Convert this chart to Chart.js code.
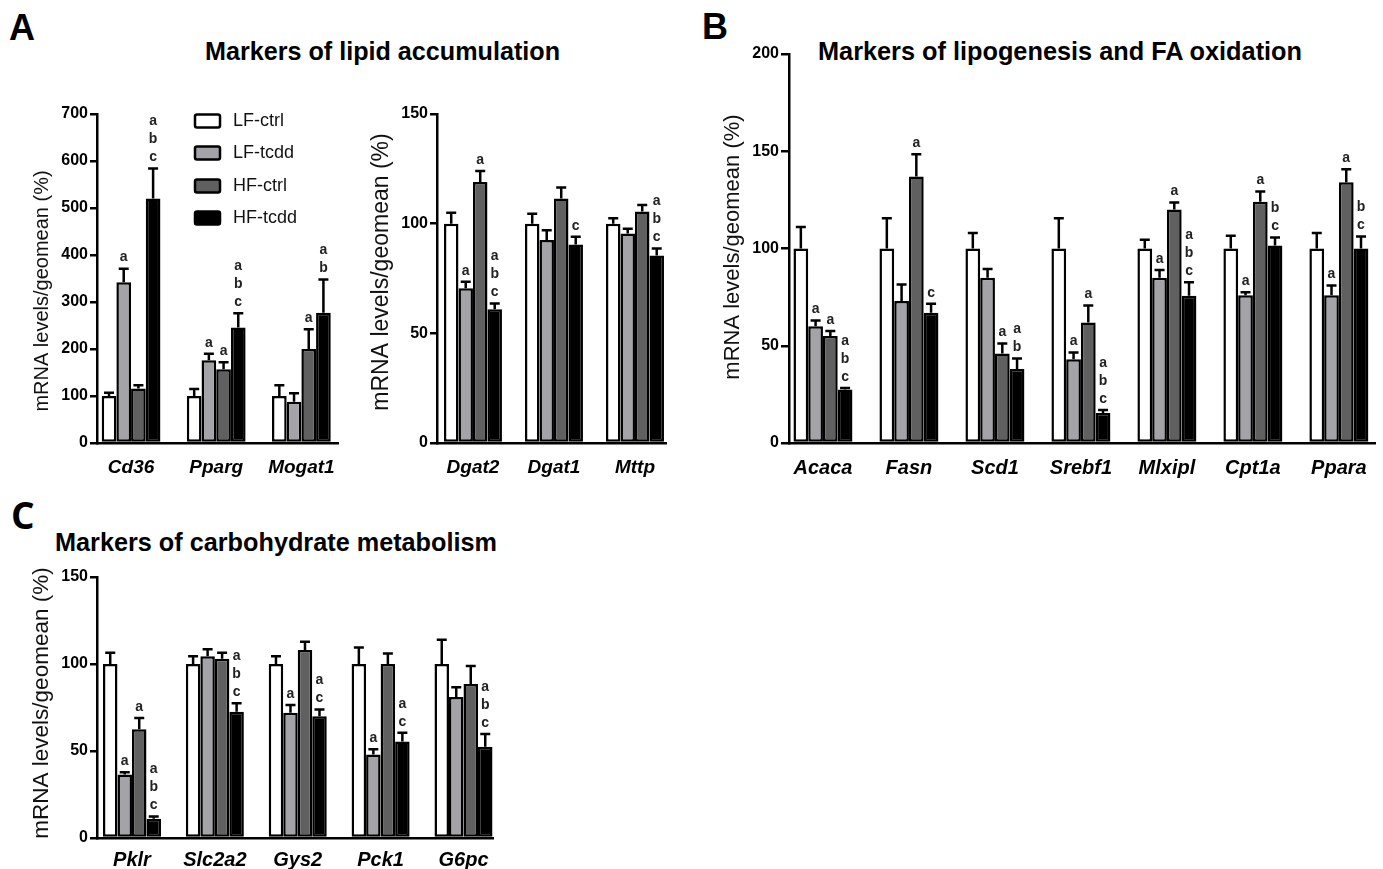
<!DOCTYPE html>
<html>
<head>
<meta charset="utf-8">
<script src="https://cdn.jsdelivr.net/npm/chart.js@4.4.1/dist/chart.umd.min.js"></script>
<style>
  body { margin: 0; background: #fff; width: 1383px; height: 869px; overflow: hidden; position: relative;
         font-family: 'Liberation Sans', Arial, sans-serif; color: #000; }
  canvas { position: absolute; }
  .tag { position: absolute; font-weight: bold; font-size: 36px; line-height: 36px; }
  .ttl { position: absolute; font-weight: bold; font-size: 25px; line-height: 25px; white-space: nowrap; transform-origin: 0 0; }
</style>
</head>
<body>
<div class="tag" style="left:9px;top:10px">A</div>
<div class="tag" style="left:702px;top:9px">B</div>
<div class="tag" style="left:11px;top:497px;font-family:'Open Sans',sans-serif;font-size:37px">C</div>
<div class="ttl" data-w="355" style="left:205px;top:39px">Markers of lipid accumulation</div>
<div class="ttl" data-w="484" style="left:818px;top:39px">Markers of lipogenesis and FA oxidation</div>
<div class="ttl" data-w="442" style="left:55px;top:530px">Markers of carbohydrate metabolism</div>

<canvas id="lipidA"></canvas>
<canvas id="lipidB"></canvas>
<canvas id="lipo"></canvas>
<canvas id="carb"></canvas>

<script>
// groups (same in every panel)
const groups = ['LF-ctrl', 'LF-tcdd', 'HF-ctrl', 'HF-tcdd'];
const fills = ['#ffffff', '#a3a3a8', '#606060', '#000000'];

// A, left: lipid accumulation (rows = groups)
const lipidCats = ['Cd36', 'Pparg', 'Mogat1'];
const lipidMean = [[100, 100, 100], [342, 176, 88], [116, 157, 200], [520, 246, 277]];
const lipidSem = [[7, 15, 23], [29, 14, 18], [7, 15, 42], [64, 30, 71]];
const lipidSig = [['', '', ''], ['a', 'a', ''], ['', 'a', 'a'], ['abc', 'abc', 'ab']];

// A, right
const lipid2Cats = ['Dgat2', 'Dgat1', 'Mttp'];
const lipid2Mean = [[100, 100, 100], [70.5, 92.5, 95.5], [119, 111.5, 105.5], [61, 90.5, 85.5]];
const lipid2Sem = [[5, 4.5, 2.5], [3, 4.5, 2.2], [5, 5, 3], [2.6, 3.5, 3.2]];
const lipid2Sig = [['', '', ''], ['a', '', ''], ['a', '', ''], ['abc', 'c', 'abc']];

// B: lipogenesis and FA oxidation
const lipoCats = ['Acaca', 'Fasn', 'Scd1', 'Srebf1', 'Mlxipl', 'Cpt1a', 'Ppara'];
const lipoMean = [
  [100, 100, 100, 100, 100, 100, 100],
  [60, 73, 85, 43, 85, 76, 76],
  [55, 137, 46, 62, 120, 124, 134],
  [27.5, 67, 38, 15.4, 75.7, 101.5, 100]
];
const lipoSem = [
  [11, 15.5, 8, 15.5, 4.5, 6.5, 8],
  [3, 8.5, 4.5, 3.5, 4, 1.5, 5],
  [2.6, 11.5, 5.2, 8.7, 3.7, 5.3, 6.8],
  [0.8, 4.6, 5.5, 1.6, 7, 4.1, 6.2]
];
const lipoSig = [
  ['', '', '', '', '', '', ''],
  ['a', '', '', 'a', 'a', 'a', 'a'],
  ['a', 'a', 'a', 'a', 'a', 'a', 'a'],
  ['abc', 'c', 'ab', 'abc', 'abc', 'bc', 'bc']
];

// C: carbohydrate metabolism
const carbCats = ['Pklr', 'Slc2a2', 'Gys2', 'Pck1', 'G6pc'];
const carbMean = [
  [100, 100, 100, 100, 100],
  [36.5, 104.5, 72, 48, 81],
  [62.5, 103, 108, 100, 88.5],
  [11, 72.5, 70, 55.5, 52.5]
];
const carbSem = [
  [6.5, 4.5, 4.5, 9.5, 14],
  [1.3, 4, 4.4, 3, 5.7],
  [6.4, 3.5, 4.8, 6, 10.4],
  [1.3, 5, 3.8, 5, 7.3]
];
const carbSig = [
  ['', '', '', '', ''],
  ['a', '', 'a', 'a', ''],
  ['a', '', '', '', ''],
  ['abc', 'abc', 'ac', 'ac', 'abc']
];

const FONT = "'Liberation Sans', Arial, sans-serif";
Chart.defaults.font.family = FONT;
Chart.defaults.color = '#000';

// error bars, significance letters, rotated y title, legend
const extras = {
  id: 'extras',
  afterDraw(chart, args, o) {
    const ctx = chart.ctx;
    const ys = chart.scales.y;
    const ox = chart.canvas.offsetLeft, oy = chart.canvas.offsetTop;
    ctx.save();
    chart.data.datasets.forEach((ds, s) => {
      chart.getDatasetMeta(s).data.forEach((bar, i) => {
        const top = ys.getPixelForValue(ds.data[i].y + ds.sem[i]);
        ctx.strokeStyle = '#000';
        ctx.lineWidth = 2.5;
        ctx.beginPath();
        ctx.moveTo(bar.x, bar.y);
        ctx.lineTo(bar.x, top);
        ctx.moveTo(bar.x - 5, top);
        ctx.lineTo(bar.x + 5, top);
        ctx.stroke();
        const tags = (ds.letters[i] || '').split('');
        ctx.fillStyle = '#222';
        ctx.font = 'bold 14px ' + FONT;
        ctx.textAlign = 'center';
        ctx.textBaseline = 'middle';
        tags.forEach((t, k) => ctx.fillText(t, bar.x, top - 11 - (tags.length - 1 - k) * 18));
      });
    });

    if (o.yLabel) {
      ctx.save();
      ctx.translate(o.yLabel.x - ox, o.yLabel.y - oy);
      ctx.rotate(-Math.PI / 2);
      ctx.fillStyle = '#111';
      ctx.font = o.yLabel.size + 'px ' + FONT;
      ctx.textAlign = 'center';
      ctx.textBaseline = 'middle';
      ctx.fillText(o.yLabel.text, 0, 0);
      ctx.restore();
    }

    if (o.legend) {
      chart.data.datasets.forEach((ds, s) => {
        const cy = o.legend.ys[s] - oy;
        const lx = o.legend.x - ox;
        ctx.fillStyle = ds.backgroundColor;
        ctx.strokeStyle = '#000';
        ctx.lineWidth = 2.5;
        ctx.beginPath();
        ctx.roundRect(lx, cy - 6.5, 25, 13, 2);
        ctx.fill();
        ctx.stroke();
        ctx.fillStyle = '#111';
        ctx.font = '18px ' + FONT;
        ctx.textAlign = 'left';
        ctx.textBaseline = 'middle';
        ctx.fillText(ds.label, lx + 38, cy);
      });
    }
    ctx.restore();
  }
};

function makeChart(id, p) {
  const cv = document.getElementById(id);
  const [bx, by, bw, bh] = p.box;
  const [al, at, ar, ab] = p.area;
  cv.width = bw;
  cv.height = bh;
  cv.style.left = bx + 'px';
  cv.style.top = by + 'px';

  const datasets = groups.map((g, s) => ({
    label: g,
    data: p.means[s].map((v, i) => ({x: i, y: v})),
    sem: p.sems[s],
    letters: p.sig[s],
    backgroundColor: fills[s],
    borderColor: '#000',
    borderWidth: 2.5,
    borderSkipped: false,
    categoryPercentage: p.catPct,
    barPercentage: 1
  }));

  return new Chart(cv, {
    type: 'bar',
    data: {datasets},
    options: {
      responsive: false,
      animation: false,
      devicePixelRatio: 1,
      layout: {padding: {top: at - by, right: bx + bw - ar, left: 0, bottom: 0}},
      plugins: {
        legend: {display: false},
        tooltip: {enabled: false},
        extras: {yLabel: p.yLabel, legend: p.legend}
      },
      scales: {
        x: {
          type: 'linear',
          bounds: 'data',
          min: p.xMin,
          max: p.xMax,
          offset: false,
          afterBuildTicks: s => { s.ticks = p.cats.map((c, i) => ({value: i})); },
          afterFit: s => { s.height = by + bh - ab; },
          grid: {display: false, drawTicks: false},
          border: {display: true, color: '#000', width: 2.5},
          ticks: {
            autoSkip: false, maxRotation: 0, padding: p.xPad, color: '#000',
            font: {size: p.xFont, weight: 'bold', style: 'italic'},
            callback: v => p.cats[v]
          }
        },
        y: {
          min: 0,
          max: p.yMax,
          afterFit: s => { s.width = al - bx; },
          grid: {display: true, drawOnChartArea: false, drawTicks: true, tickLength: p.tick, lineWidth: 2.5, color: '#000'},
          border: {display: true, color: '#000', width: 2.5},
          ticks: {stepSize: p.yStep, padding: 2, color: '#000', font: {size: p.yFont, weight: 'bold'}}
        }
      }
    },
    plugins: [extras]
  });
}

const yTitle = 'mRNA levels/geomean (%)';

makeChart('lipidA', {
  box: [0, 90, 350, 395], area: [97, 114, 338, 443],
  cats: lipidCats, means: lipidMean, sems: lipidSem, sig: lipidSig,
  xMin: -0.40, xMax: 2.43, catPct: 0.69, tick: 7,
  yMax: 700, yStep: 100, yFont: 16, xFont: 19, xPad: 13,
  yLabel: {text: yTitle, x: 42, y: 291, size: 20},
  legend: {x: 195, ys: [121, 153, 186, 218]}
});

makeChart('lipidB', {
  box: [355, 90, 320, 395], area: [437, 114, 666, 443],
  cats: lipid2Cats, means: lipid2Mean, sems: lipid2Sem, sig: lipid2Sig,
  xMin: -0.444, xMax: 2.383, catPct: 0.716, tick: 7,
  yMax: 150, yStep: 50, yFont: 16, xFont: 19, xPad: 13,
  yLabel: {text: yTitle, x: 382, y: 272, size: 23}
});

makeChart('lipo', {
  box: [700, 40, 683, 445], area: [789, 54, 1375, 443],
  cats: lipoCats, means: lipoMean, sems: lipoSem, sig: lipoSig,
  xMin: -0.395, xMax: 6.42, catPct: 0.686, tick: 8,
  yMax: 200, yStep: 50, yFont: 16, xFont: 20, xPad: 13,
  yLabel: {text: yTitle, x: 733, y: 247, size: 22}
});

makeChart('carb', {
  box: [0, 560, 510, 309], area: [97, 577, 493, 838],
  cats: carbCats, means: carbMean, sems: carbSem, sig: carbSig,
  xMin: -0.422, xMax: 4.356, catPct: 0.70, tick: 7,
  yMax: 150, yStep: 50, yFont: 16, xFont: 20, xPad: 10,
  yLabel: {text: yTitle, x: 42, y: 703, size: 22.5}
});

// stretch the panel titles to the widths they have in the figure
document.querySelectorAll('.ttl').forEach(el => {
  const w = el.getBoundingClientRect().width;
  el.style.transform = 'scaleX(' + (el.dataset.w / w) + ')';
});
</script>
</body>
</html>
